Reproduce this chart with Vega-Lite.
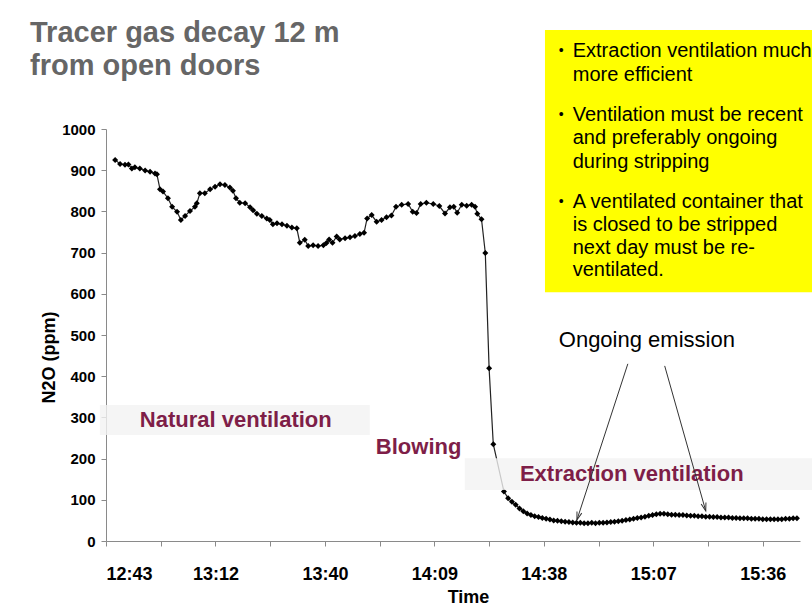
{
  "$schema": "https://vega.github.io/schema/vega-lite/v6.json",
  "width": 694,
  "height": 412,
  "autosize": {"type": "none"},
  "padding": {"left": 106, "top": 129, "right": 12, "bottom": 67},
  "background": "white",
  "title": {
    "text": ["Tracer gas decay 12 m", "from open doors"],
    "anchor": "start",
    "frame": "group",
    "orient": "top",
    "font": "Liberation Sans",
    "fontSize": 29,
    "fontWeight": "bold",
    "color": "#666666",
    "lineHeight": 33,
    "dx": -76,
    "dy": 51,
    "offset": 0
  },
  "config": {
    "view": {"stroke": null},
    "axis": {
      "grid": false,
      "labelFont": "Liberation Sans",
      "labelFontSize": 15,
      "labelFontWeight": "bold",
      "labelColor": "#000000",
      "titleFont": "Liberation Sans",
      "titleFontSize": 18,
      "titleFontWeight": "bold",
      "titleColor": "#000000",
      "domainColor": "#8a8a8a",
      "tickColor": "#8a8a8a",
      "tickSize": 5,
      "zindex": 1
    }
  },
  "datasets": {
    "n2o": [
      {"t": 765.6, "ppm": 925}, {"t": 766.9, "ppm": 915}, {"t": 768.2, "ppm": 913}, {"t": 769.1, "ppm": 914},
      {"t": 770.0, "ppm": 904}, {"t": 770.8, "ppm": 907}, {"t": 772.1, "ppm": 904}, {"t": 773.5, "ppm": 899},
      {"t": 774.8, "ppm": 896}, {"t": 776.1, "ppm": 892}, {"t": 776.6, "ppm": 890}, {"t": 777.4, "ppm": 854},
      {"t": 778.2, "ppm": 848}, {"t": 779.5, "ppm": 832}, {"t": 780.6, "ppm": 811}, {"t": 781.9, "ppm": 799},
      {"t": 782.9, "ppm": 779}, {"t": 784.0, "ppm": 789}, {"t": 785.3, "ppm": 801}, {"t": 786.6, "ppm": 811},
      {"t": 787.1, "ppm": 820}, {"t": 787.9, "ppm": 844}, {"t": 789.2, "ppm": 844}, {"t": 790.6, "ppm": 854},
      {"t": 791.9, "ppm": 860}, {"t": 793.2, "ppm": 866}, {"t": 794.5, "ppm": 864}, {"t": 795.8, "ppm": 858},
      {"t": 796.6, "ppm": 850}, {"t": 797.4, "ppm": 832}, {"t": 798.4, "ppm": 821}, {"t": 799.8, "ppm": 820},
      {"t": 801.1, "ppm": 810}, {"t": 801.9, "ppm": 803}, {"t": 802.9, "ppm": 794}, {"t": 804.2, "ppm": 789},
      {"t": 805.5, "ppm": 783}, {"t": 806.3, "ppm": 779}, {"t": 807.1, "ppm": 769}, {"t": 808.2, "ppm": 771},
      {"t": 809.5, "ppm": 769}, {"t": 810.8, "ppm": 765}, {"t": 812.1, "ppm": 761}, {"t": 813.4, "ppm": 759},
      {"t": 814.2, "ppm": 724}, {"t": 815.5, "ppm": 731}, {"t": 816.4, "ppm": 716}, {"t": 817.7, "ppm": 718},
      {"t": 819.0, "ppm": 716}, {"t": 820.4, "ppm": 718}, {"t": 821.2, "ppm": 723}, {"t": 821.9, "ppm": 732},
      {"t": 822.8, "ppm": 724}, {"t": 823.9, "ppm": 739}, {"t": 824.7, "ppm": 732}, {"t": 826.1, "ppm": 735},
      {"t": 827.4, "ppm": 737}, {"t": 828.7, "ppm": 740}, {"t": 830.0, "ppm": 745}, {"t": 831.1, "ppm": 748},
      {"t": 831.9, "ppm": 783}, {"t": 833.1, "ppm": 791}, {"t": 834.4, "ppm": 775}, {"t": 835.7, "ppm": 779},
      {"t": 837.0, "ppm": 786}, {"t": 838.3, "ppm": 790}, {"t": 839.5, "ppm": 811}, {"t": 841.0, "ppm": 816},
      {"t": 842.7, "ppm": 818}, {"t": 843.9, "ppm": 799}, {"t": 844.9, "ppm": 796}, {"t": 846.0, "ppm": 818},
      {"t": 847.5, "ppm": 821}, {"t": 849.3, "ppm": 818}, {"t": 850.9, "ppm": 813}, {"t": 852.4, "ppm": 795},
      {"t": 853.7, "ppm": 810}, {"t": 854.7, "ppm": 811}, {"t": 855.6, "ppm": 797}, {"t": 856.8, "ppm": 816},
      {"t": 858.1, "ppm": 814}, {"t": 859.4, "ppm": 816}, {"t": 860.3, "ppm": 811}, {"t": 860.9, "ppm": 794},
      {"t": 862.0, "ppm": 781}, {"t": 863.0, "ppm": 699}, {"t": 864.0, "ppm": 419}, {"t": 865.1, "ppm": 235},
      {"t": 867.9, "ppm": 120}, {"t": 869, "ppm": 104}, {"t": 870, "ppm": 95}, {"t": 871, "ppm": 88},
      {"t": 872, "ppm": 79}, {"t": 873, "ppm": 72}, {"t": 874, "ppm": 67}, {"t": 875, "ppm": 63},
      {"t": 876, "ppm": 60}, {"t": 877, "ppm": 58}, {"t": 878, "ppm": 56}, {"t": 879, "ppm": 54},
      {"t": 880, "ppm": 52}, {"t": 881, "ppm": 50}, {"t": 882, "ppm": 49}, {"t": 883, "ppm": 48},
      {"t": 884, "ppm": 47}, {"t": 885, "ppm": 46}, {"t": 886, "ppm": 45}, {"t": 887, "ppm": 44},
      {"t": 888, "ppm": 44}, {"t": 889, "ppm": 43}, {"t": 890, "ppm": 43}, {"t": 891, "ppm": 44},
      {"t": 892, "ppm": 43}, {"t": 893, "ppm": 44}, {"t": 894, "ppm": 44}, {"t": 895, "ppm": 45},
      {"t": 896, "ppm": 46}, {"t": 897, "ppm": 47}, {"t": 898, "ppm": 48}, {"t": 899, "ppm": 49},
      {"t": 900, "ppm": 51}, {"t": 901, "ppm": 52}, {"t": 902, "ppm": 54}, {"t": 903, "ppm": 56},
      {"t": 904, "ppm": 57}, {"t": 905, "ppm": 59}, {"t": 906, "ppm": 61}, {"t": 907, "ppm": 63},
      {"t": 908, "ppm": 65}, {"t": 909, "ppm": 66}, {"t": 910, "ppm": 66}, {"t": 911, "ppm": 65},
      {"t": 912, "ppm": 64}, {"t": 913, "ppm": 64}, {"t": 914, "ppm": 63}, {"t": 915, "ppm": 63},
      {"t": 916, "ppm": 62}, {"t": 917, "ppm": 61}, {"t": 918, "ppm": 61}, {"t": 919, "ppm": 60},
      {"t": 920, "ppm": 60}, {"t": 921, "ppm": 59}, {"t": 922, "ppm": 59}, {"t": 923, "ppm": 58},
      {"t": 924, "ppm": 58}, {"t": 925, "ppm": 57}, {"t": 926, "ppm": 57}, {"t": 927, "ppm": 57},
      {"t": 928, "ppm": 56}, {"t": 929, "ppm": 56}, {"t": 930, "ppm": 55}, {"t": 931, "ppm": 55},
      {"t": 932, "ppm": 55}, {"t": 933, "ppm": 54}, {"t": 934, "ppm": 54}, {"t": 935, "ppm": 54},
      {"t": 936, "ppm": 53}, {"t": 937, "ppm": 53}, {"t": 938, "ppm": 53}, {"t": 939, "ppm": 53},
      {"t": 940, "ppm": 53}, {"t": 941, "ppm": 53}, {"t": 942, "ppm": 54}, {"t": 943, "ppm": 54},
      {"t": 944, "ppm": 55}, {"t": 945, "ppm": 55}
    ],
    "bands": [
      {"t0": 761.6, "t1": 832.6, "p0": 257, "p1": 330},
      {"t0": 857.6, "t1": 950, "p0": 124, "p1": 201}
    ],
    "phases": [
      {"t": 772.1, "ppm": 294, "label": "Natural ventilation"},
      {"t": 834.2, "ppm": 228, "label": "Blowing"},
      {"t": 872.1, "ppm": 163, "label": "Extraction ventilation"}
    ],
    "emission": [
      {"t": 905.5, "ppm": 488, "label": "Ongoing emission"}
    ],
    "arrows": [
      {"arrow": 1, "t0": 900.5, "p0": 430, "t1": 887.1, "p1": 51},
      {"arrow": 2, "t0": 910.2, "p0": 425, "t1": 921.0, "p1": 73}
    ],
    "box": [
      {"t0": 878.7, "t1": 950, "p0": 604, "p1": 1240}
    ],
    "notes": [
      {"t": 886.0, "ppm": 1190, "line": "Extraction ventilation much"},
      {"t": 886.0, "ppm": 1131, "line": "more efficient"},
      {"t": 886.0, "ppm": 1034, "line": "Ventilation must be recent"},
      {"t": 886.0, "ppm": 978, "line": "and preferably ongoing"},
      {"t": 886.0, "ppm": 921, "line": "during stripping"},
      {"t": 886.0, "ppm": 824, "line": "A ventilated container that"},
      {"t": 886.0, "ppm": 767, "line": "is closed to be stripped"},
      {"t": 886.0, "ppm": 711, "line": "next day must be re-"},
      {"t": 886.0, "ppm": 658, "line": "ventilated."}
    ],
    "bullets": [
      {"t": 882.3, "ppm": 1190},
      {"t": 882.3, "ppm": 1034},
      {"t": 882.3, "ppm": 824}
    ]
  },
  "layer": [
    {
      "data": {"name": "box"},
      "mark": {"type": "rect", "color": "#ffff00"},
      "encoding": {
        "x": {"field": "t0", "type": "quantitative", "scale": {"domain": [763.2, 945.8], "zero": false, "nice": false},
          "title": "Time",
          "axis": {
            "values": [763.2, 777.6, 792, 806.4, 820.8, 835.2, 849.6, 864, 878.4, 892.8, 907.2, 921.6, 936],
            "labelExpr": "round((datum.value-763.2)/14.4) % 2 == 1 ? '' : floor(datum.value/60) + ':' + (floor(datum.value%60+0.01) < 10 ? '0' : '') + floor(datum.value%60+0.01)",
            "labelFontSize": 18,
            "labelPadding": 19,
            "titlePadding": 5,
            "titleX": 362
          }},
        "x2": {"field": "t1"},
        "y": {"field": "p0", "type": "quantitative", "scale": {"domain": [0, 1000], "nice": false},
          "title": "N2O (ppm)",
          "axis": {
            "values": [0, 100, 200, 300, 400, 500, 600, 700, 800, 900, 1000],
            "format": "d",
            "labelPadding": 6,
            "titlePadding": 3,
            "titleY": 228
          }},
        "y2": {"field": "p1"}
      }
    },
    {
      "data": {"name": "bullets"},
      "mark": {"type": "text", "text": "•", "font": "Liberation Sans", "fontSize": 14, "color": "#000000", "align": "left", "baseline": "middle"},
      "encoding": {
        "x": {"field": "t", "type": "quantitative"},
        "y": {"field": "ppm", "type": "quantitative"}
      }
    },
    {
      "data": {"name": "notes"},
      "mark": {"type": "text", "font": "Liberation Sans", "fontSize": 20, "color": "#000000", "align": "left", "baseline": "middle"},
      "encoding": {
        "x": {"field": "t", "type": "quantitative"},
        "y": {"field": "ppm", "type": "quantitative"},
        "text": {"field": "line"}
      }
    },
    {
      "data": {"name": "n2o"},
      "mark": {"type": "line", "color": "#222222", "strokeWidth": 1.2},
      "encoding": {
        "x": {"field": "t", "type": "quantitative"},
        "y": {"field": "ppm", "type": "quantitative"}
      }
    },
    {
      "data": {"name": "n2o"},
      "mark": {"type": "point", "shape": "diamond", "filled": true, "color": "#000000", "size": 36, "opacity": 1},
      "encoding": {
        "x": {"field": "t", "type": "quantitative"},
        "y": {"field": "ppm", "type": "quantitative"}
      }
    },
    {
      "data": {"name": "bands"},
      "mark": {"type": "rect", "color": "#f2f2f2", "opacity": 0.8},
      "encoding": {
        "x": {"field": "t0", "type": "quantitative"},
        "x2": {"field": "t1"},
        "y": {"field": "p0", "type": "quantitative"},
        "y2": {"field": "p1"}
      }
    },
    {
      "data": {"name": "phases"},
      "mark": {"type": "text", "font": "Liberation Sans", "fontSize": 22, "fontWeight": "bold", "color": "#7e1e48", "align": "left", "baseline": "middle"},
      "encoding": {
        "x": {"field": "t", "type": "quantitative"},
        "y": {"field": "ppm", "type": "quantitative"},
        "text": {"field": "label"}
      }
    },
    {
      "data": {"name": "emission"},
      "mark": {"type": "text", "font": "Liberation Sans", "fontSize": 22, "color": "#000000", "align": "center", "baseline": "middle"},
      "encoding": {
        "x": {"field": "t", "type": "quantitative"},
        "y": {"field": "ppm", "type": "quantitative"},
        "text": {"field": "label"}
      }
    },
    {
      "data": {"name": "arrows"},
      "mark": {"type": "rule", "color": "#333333", "strokeWidth": 1},
      "encoding": {
        "x": {"field": "t0", "type": "quantitative"},
        "y": {"field": "p0", "type": "quantitative"},
        "x2": {"field": "t1"},
        "y2": {"field": "p1"}
      }
    },
    {
      "data": {"name": "arrows"},
      "transform": [{"filter": "datum.arrow == 1"}],
      "mark": {"type": "point", "shape": "M-0.5,-1.6L0,0L0.5,-1.6", "filled": false, "color": "#333333", "strokeWidth": 1, "size": 100, "angle": 18, "opacity": 1},
      "encoding": {
        "x": {"field": "t1", "type": "quantitative"},
        "y": {"field": "p1", "type": "quantitative"}
      }
    },
    {
      "data": {"name": "arrows"},
      "transform": [{"filter": "datum.arrow == 2"}],
      "mark": {"type": "point", "shape": "M-0.5,-1.6L0,0L0.5,-1.6", "filled": false, "color": "#333333", "strokeWidth": 1, "size": 100, "angle": 344, "opacity": 1},
      "encoding": {
        "x": {"field": "t1", "type": "quantitative"},
        "y": {"field": "p1", "type": "quantitative"}
      }
    }
  ]
}
